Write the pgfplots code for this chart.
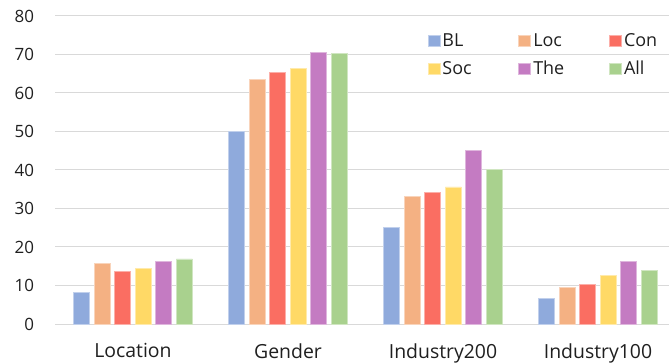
\documentclass[border=0pt]{standalone}
\usepackage{pgfplots}
\pgfplotsset{compat=1.18}
\usepackage{fontspec}
\setmainfont{Open Sans}

\definecolor{cBL}{HTML}{8FAADC}
\definecolor{cLoc}{HTML}{F4B183}
\definecolor{cCon}{HTML}{FA6E62}
\definecolor{cSoc}{HTML}{FFD966}
\definecolor{cThe}{HTML}{C47BC2}
\definecolor{cAll}{HTML}{A9D18E}
\definecolor{gridgray}{HTML}{D9D9D9}
\definecolor{txt}{HTML}{1F1F1F}

\pgfplotstableread{
x   BL    Loc   Con   Soc   The   All
0   8.1   15.8  13.7  14.5  16.3  16.9
1   50.0  63.6  65.4  66.3  70.6  70.2
2   25.0  33.2  34.2  35.6  45.1  40.2
3   6.7   9.5   10.2  12.6  16.3  13.8
}\results

\begin{document}
\begin{tikzpicture}
% fixed frame around the plot area and its labels
\useasboundingbox (-55.5bp,-40bp) rectangle (614.5bp,324bp);
\begin{axis}[
    at={(0,0)}, anchor=south west,
    x=155bp, y=3.85bp,
    scale only axis,
    xmin=-0.5, xmax=3.46,
    ymin=0, ymax=80,
    ytick={0,10,...,80},
    xtick={0,1,2,3},
    xticklabels={Location,Gender,Industry200,Industry100},
    major tick length=0pt,
    axis line style={draw=none},
    ymajorgrids,
    grid style={gridgray, line width=1bp},
    /pgf/number format/assume math mode=true,
    yticklabel style={font=\fontsize{17}{20}\selectfont, text=txt, anchor=east, xshift=-18bp},
    xticklabel style={font=\fontsize{19.5}{22}\selectfont, text=txt, anchor=north, yshift=-16bp},
    bar width=0.103,
    every axis plot/.append style={ybar, line width=0.8bp},
    legend columns=3,
    legend style={draw=none, fill=none, at={(axis cs:1.90,76)}, anchor=north west,
        font=\fontsize{18}{21}\selectfont, text=txt,
        row sep=9bp, inner sep=0pt,
        /tikz/every even column/.append style={column sep=0bp}},
    legend image code/.code={\fill[#1] (0bp,-5.5bp) rectangle (12bp,5.5bp);},
    clip=false,
]
\addplot[fill=cBL,  draw=cBL!55!white,  bar shift=-0.33125] table[x=x,y=BL]  {\results};
\addplot[fill=cLoc, draw=cLoc!55!white, bar shift=-0.19875] table[x=x,y=Loc] {\results};
\addplot[fill=cCon, draw=cCon!55!white, bar shift=-0.06625] table[x=x,y=Con] {\results};
\addplot[fill=cSoc, draw=cSoc!55!white, bar shift=0.06625]  table[x=x,y=Soc] {\results};
\addplot[fill=cThe, draw=cThe!55!white, bar shift=0.19875]  table[x=x,y=The] {\results};
\addplot[fill=cAll, draw=cAll!55!white, bar shift=0.33125]  table[x=x,y=All] {\results};
\legend{\makebox[74bp][l]{BL},\makebox[74bp][l]{Loc},\makebox[50bp][l]{Con},
        \makebox[74bp][l]{Soc},\makebox[74bp][l]{The},\makebox[50bp][l]{All}}
\end{axis}
\end{tikzpicture}
\end{document}
